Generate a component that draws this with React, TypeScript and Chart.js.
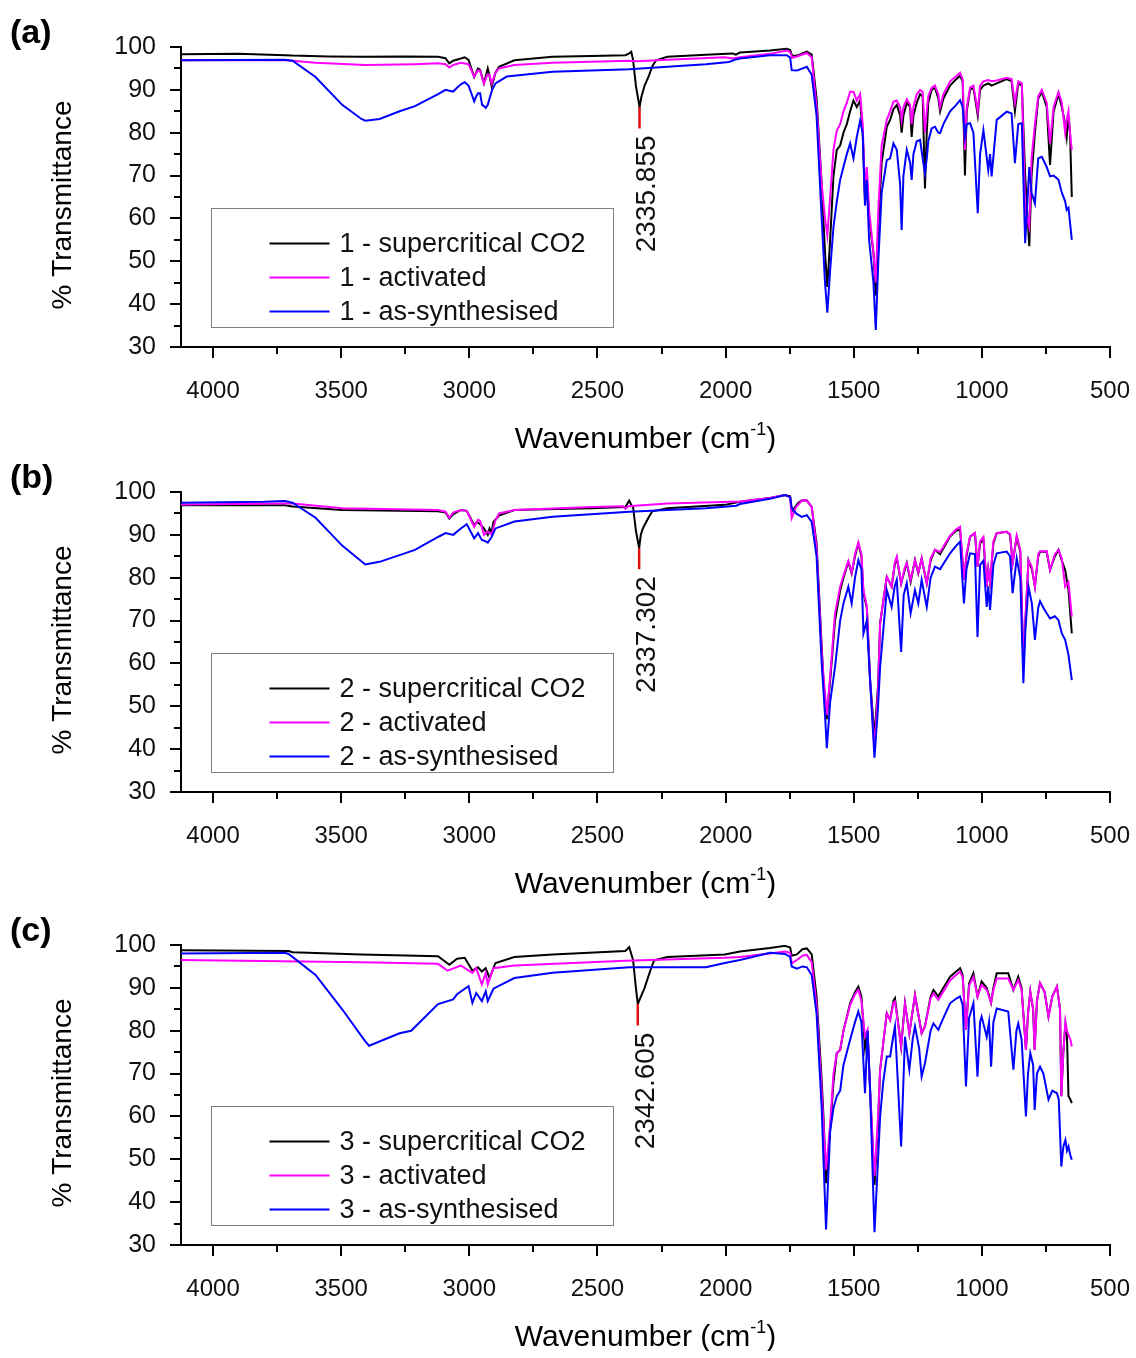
import React, { useEffect, useRef } from "react";
import { Chart, registerables } from "chart.js";

Chart.register(...registerables);

type Pt = [number, number];

const FONT = "'Liberation Sans', Arial, Helvetica, sans-serif";

// Axis ranges and tick positions (wavenumber axis runs high -> low)
const X_RANGE: [number, number] = [500, 4125];
const Y_RANGE: [number, number] = [30, 100];
const X_MAJOR = [4000, 3500, 3000, 2500, 2000, 1500, 1000, 500];
const X_MINOR = [3750, 3250, 2750, 2250, 1750, 1250, 750];
const Y_MAJOR = [30, 40, 50, 60, 70, 80, 90, 100];
const Y_MINOR = [35, 45, 55, 65, 75, 85, 95];

const PANEL_LETTERS = ["(a)", "(b)", "(c)"];
const SAMPLE_NUMBERS = [1, 2, 3];
const SERIES_NAMES = ["supercritical CO2", "activated", "as-synthesised"];
const SERIES_COLORS = ["#000000", "#ff00ff", "#0000ff"];

// CO2 band picked on the supercritical-CO2 spectra
const CO2_PEAK_WN = [2335.855, 2337.302, 2342.605];
const CO2_PEAK_TOP = [86.0, 86.9, 86.2];
const CO2_PEAK_BOTTOM = [81.0, 82.0, 81.2];

// ---------- Sample 1 ----------
const S1_SCCO2: Pt[] = [
  [4125, 98.3], [3900, 98.4], [3720, 98.1], [3690, 98.0], [3550, 97.8], [3421, 97.7], [3250, 97.8], [3122, 97.7],
  [3093, 97.4], [3078, 96.2], [3063, 96.8], [3033, 97.3], [3018, 97.6], [3003, 97.0], [2981, 93.0], [2966, 95.0],
  [2958, 94.7], [2943, 91.5], [2928, 95.0], [2921, 93.2], [2913, 90.8], [2898, 94.0], [2884, 95.4], [2824, 96.9],
  [2675, 97.7], [2525, 97.9], [2391, 98.1], [2376, 98.5], [2368, 98.9], [2361, 97.0], [2350, 91.0], [2335.855, 86.0],
  [2328, 88.5], [2316, 91.0], [2301, 93.0], [2286, 95.5], [2271, 96.9], [2227, 97.7], [2077, 98.2], [1973, 98.5],
  [1960, 98.2], [1944, 98.7], [1827, 99.2], [1761, 99.6], [1748, 99.3], [1740, 97.9], [1722, 98.0], [1683, 98.9],
  [1664, 98.2], [1645, 88], [1625, 68], [1612, 52], [1603, 44], [1592, 55], [1579, 70], [1566, 76], [1553, 77],
  [1540, 80], [1527, 82], [1514, 85], [1501, 87.5], [1488, 86], [1475, 87.5], [1465, 80], [1456, 64], [1449, 70],
  [1440, 60], [1423, 52], [1414, 42], [1404, 58], [1391, 73], [1371, 81.4], [1358, 83], [1345, 85.5], [1332, 86.5],
  [1319, 84], [1313, 80], [1306, 84], [1293, 87], [1280, 86], [1274, 79], [1267, 84], [1254, 87], [1241, 89],
  [1231, 88.5], [1222, 67], [1215, 80], [1209, 87], [1196, 90], [1183, 90.5], [1170, 88], [1163, 85], [1150, 88],
  [1124, 91], [1100, 92.5], [1085, 93.3], [1075, 92], [1066, 70], [1059, 85], [1046, 90], [1033, 90.5], [1016, 84],
  [1007, 90], [994, 91], [975, 91.5], [962, 91], [942, 91.5], [903, 92.5], [884, 92], [871, 85], [858, 91.5],
  [844, 91], [831, 70], [815, 53.5], [806, 70], [793, 80], [780, 88], [766, 89.5], [747, 86], [734, 72.5], [720, 85],
  [701, 89], [688, 86], [675, 82], [669, 79], [662, 84], [656, 80], [649, 65],
];
const S1_ACTIVATED: Pt[] = [
  [4125, 96.9], [3720, 96.9], [3690, 96.8], [3600, 96.3], [3406, 95.8], [3212, 96.0], [3122, 96.2], [3093, 96.0],
  [3078, 95.2], [3063, 95.8], [3033, 96.3], [3003, 96.0], [2981, 93.1], [2966, 94.5], [2958, 94.5], [2943, 91.5],
  [2930, 93.5], [2921, 93.5], [2913, 91.5], [2898, 94.0], [2884, 95.0], [2824, 95.8], [2675, 96.3], [2376, 96.8],
  [2345, 96.7], [2227, 97.0], [2003, 97.6], [1973, 97.3], [1944, 97.6], [1827, 98.4], [1761, 99.2], [1748, 98.8],
  [1740, 97.5], [1722, 97.8], [1683, 98.6], [1664, 97.6], [1645, 86], [1625, 68], [1612, 60], [1603, 56], [1592, 65],
  [1579, 76], [1566, 80.5], [1553, 82], [1540, 85], [1527, 87], [1514, 89.6], [1501, 89.5], [1488, 87.5], [1475, 89],
  [1465, 82], [1456, 66], [1449, 72], [1440, 62], [1423, 52], [1414, 45], [1404, 62], [1391, 77], [1371, 83],
  [1358, 85], [1345, 87.2], [1332, 87.5], [1319, 86], [1313, 83], [1306, 86], [1293, 87.8], [1280, 86.5], [1274, 82],
  [1267, 86], [1254, 89], [1241, 90], [1231, 89.5], [1222, 80], [1215, 85], [1209, 88.5], [1196, 90.5], [1183, 91],
  [1170, 89], [1163, 86], [1150, 89], [1124, 92], [1100, 93.2], [1085, 94], [1075, 92.5], [1066, 76], [1059, 86],
  [1046, 90.5], [1033, 91], [1016, 85], [1007, 91], [994, 92], [975, 92.3], [962, 92], [942, 92.2], [903, 92.8],
  [884, 92.5], [871, 87], [858, 92], [844, 91.5], [831, 62], [815, 58], [806, 74], [793, 82], [780, 88.5], [766, 90],
  [747, 87], [734, 77.5], [720, 86], [701, 89.5], [688, 87], [675, 80], [669, 83], [662, 85], [656, 80], [649, 76],
];
const S1_AS_SYNTH: Pt[] = [
  [4125, 96.9], [3720, 97.0], [3690, 96.8], [3600, 93.0], [3496, 86.5], [3421, 83.2], [3406, 82.8], [3350, 83.2],
  [3272, 85.0], [3212, 86.2], [3122, 89.0], [3093, 90.0], [3078, 89.8], [3063, 89.6], [3048, 90.5], [3033, 91.3],
  [3018, 91.8], [3003, 91.0], [2988, 88.5], [2981, 87.3], [2973, 88.5], [2966, 89.2], [2958, 89.2], [2950, 86.5],
  [2943, 86.2], [2936, 85.8], [2928, 86.5], [2921, 88.0], [2911, 90.0], [2898, 91.5], [2854, 93.1], [2675, 94.2],
  [2376, 94.8], [2077, 96.0], [1987, 96.5], [1960, 97.1], [1944, 97.3], [1827, 98.1], [1761, 98.1], [1748, 97.5],
  [1742, 94.6], [1722, 94.5], [1683, 95.4], [1664, 93.5], [1645, 84], [1625, 60], [1612, 45], [1603, 38], [1592, 48],
  [1579, 58], [1566, 64], [1553, 69], [1540, 72], [1527, 75], [1514, 77.5], [1501, 74], [1488, 79], [1475, 82.8],
  [1465, 80], [1456, 63], [1449, 69], [1440, 55], [1423, 45], [1414, 34], [1404, 50], [1391, 66], [1371, 73.6],
  [1358, 74], [1345, 77.5], [1332, 76], [1319, 68], [1313, 57.3], [1306, 70], [1293, 76], [1280, 73], [1274, 69],
  [1267, 75], [1254, 78], [1241, 78.3], [1231, 74], [1222, 70.5], [1215, 74], [1209, 78], [1196, 81], [1183, 81.4],
  [1170, 80], [1163, 79.9], [1150, 82], [1124, 85], [1100, 86.5], [1085, 87.6], [1075, 86], [1066, 79], [1059, 82],
  [1046, 82.2], [1033, 80], [1016, 61.2], [1007, 75], [994, 80.6], [975, 71.3], [968, 75], [962, 69.8], [942, 83],
  [903, 84.9], [884, 84.5], [871, 72.9], [858, 82], [844, 82.2], [831, 54.2], [815, 72], [806, 66], [793, 63.5],
  [780, 74], [766, 74.4], [747, 72], [734, 69.8], [720, 70], [701, 69], [688, 66], [675, 64], [669, 62], [662, 62.5],
  [649, 55],
];

// ---------- Sample 2 ----------
const S2_SCCO2: Pt[] = [
  [4125, 96.9], [3720, 96.9], [3690, 96.6], [3496, 95.8], [3122, 95.5], [3093, 95.2], [3078, 93.8], [3063, 94.8],
  [3033, 95.8], [3010, 95.6], [2981, 92.3], [2970, 93.0], [2958, 92.5], [2943, 91.5], [2928, 90.0], [2921, 91.5],
  [2913, 90.5], [2906, 93.0], [2884, 94.5], [2824, 95.8], [2525, 96.2], [2391, 96.5], [2376, 98.0], [2368, 97.0],
  [2361, 96.5], [2350, 91.0], [2337.302, 86.9], [2331, 90.0], [2323, 91.5], [2316, 92.3], [2301, 94.0], [2286, 95.5],
  [2227, 96.2], [2003, 97.0], [1944, 97.7], [1827, 98.6], [1768, 99.3], [1748, 99.0], [1742, 95.5], [1716, 97.5],
  [1700, 98.1], [1683, 98.0], [1664, 96.5], [1645, 88], [1625, 64], [1618, 56], [1605, 47], [1592, 56], [1573, 70],
  [1553, 77], [1540, 80], [1521, 83.7], [1508, 81], [1495, 85], [1482, 88], [1470, 85], [1462, 76.4], [1449, 73],
  [1436, 56], [1419, 43], [1405, 55], [1397, 69.4], [1371, 80.2], [1352, 77.9], [1340, 83], [1332, 84.6], [1315, 78.7],
  [1300, 82], [1293, 83.4], [1278, 79], [1261, 84.1], [1248, 81], [1235, 84.5], [1215, 78.7], [1200, 84], [1183, 86.5],
  [1163, 85.5], [1124, 89.6], [1100, 91], [1085, 91.2], [1070, 79.5], [1060, 85], [1046, 89.6], [1027, 90.4],
  [1017, 82.6], [1007, 88], [994, 89], [981, 77.9], [975, 82], [968, 79], [955, 88], [942, 90.4], [903, 90.7],
  [890, 90], [880, 83.4], [864, 89.5], [850, 86], [838, 60], [830, 70], [818, 84.1], [805, 82], [793, 78], [780, 85],
  [773, 86.1], [747, 86], [734, 81.8], [715, 85], [701, 86.5], [688, 84], [675, 81.8], [662, 77.1], [649, 67],
];
const S2_ACTIVATED: Pt[] = [
  [4125, 97.1], [3720, 97.3], [3690, 97.3], [3496, 96.2], [3122, 95.8], [3093, 95.4], [3078, 94.0], [3063, 95.2],
  [3033, 95.8], [3010, 95.6], [2981, 91.9], [2966, 93.5], [2958, 93.3], [2943, 90.0], [2928, 90.8], [2921, 90.5],
  [2913, 90.0], [2898, 93.4], [2884, 95.0], [2824, 95.8], [2525, 96.5], [2400, 96.7], [2391, 96.1], [2380, 96.7],
  [2227, 97.3], [1944, 97.8], [1827, 98.6], [1768, 99.3], [1748, 98.8], [1742, 93.9], [1725, 96.5], [1700, 98.1],
  [1683, 98.0], [1664, 96.5], [1645, 87], [1625, 63], [1618, 57], [1605, 48], [1592, 57], [1573, 71.7], [1553, 77.9],
  [1540, 80.5], [1521, 83.9], [1508, 81.2], [1495, 85.5], [1482, 88.2], [1470, 85.5], [1462, 77], [1449, 73.5],
  [1436, 56], [1419, 40], [1405, 54], [1397, 69.4], [1371, 80.2], [1352, 77.9], [1340, 83.5], [1332, 84.9],
  [1315, 78.7], [1300, 82.5], [1293, 83.4], [1278, 79.5], [1261, 84.1], [1248, 81.2], [1235, 84.5], [1215, 78.7],
  [1200, 84.5], [1183, 86.5], [1163, 86], [1124, 89.8], [1100, 91.3], [1085, 91.9], [1070, 79.5], [1060, 85.5],
  [1046, 89.6], [1027, 90.4], [1017, 82.6], [1007, 88.5], [994, 89.5], [981, 77.9], [975, 82], [968, 79], [955, 88.5],
  [942, 90.4], [903, 90.7], [890, 90.2], [880, 83.4], [864, 89.8], [850, 86.5], [838, 60], [830, 70.5], [818, 84.1],
  [805, 82.5], [793, 77.9], [780, 85.5], [773, 86.1], [747, 86.2], [734, 81.8], [715, 85.5], [701, 86.5], [688, 84.5],
  [675, 77.9], [662, 79], [649, 70.9],
];
const S2_AS_SYNTH: Pt[] = [
  [4125, 97.5], [3800, 97.7], [3720, 97.9], [3690, 97.5], [3600, 94.0], [3496, 87.5], [3406, 83.1], [3350, 83.7],
  [3212, 86.5], [3122, 89.5], [3093, 90.4], [3063, 90.0], [3033, 91.5], [3010, 92.5], [2981, 89.2], [2966, 90.4],
  [2951, 88.8], [2936, 88.5], [2928, 88.2], [2913, 89.5], [2898, 91.5], [2824, 93.1], [2675, 94.2], [2376, 95.4],
  [2077, 96.2], [1958, 96.8], [1944, 97.2], [1827, 98.4], [1768, 99.3], [1748, 98.8], [1742, 96.3], [1725, 95.0],
  [1703, 94.2], [1683, 94.6], [1664, 93], [1645, 85], [1625, 60], [1612, 48], [1605, 40.2], [1592, 51], [1573, 59.2],
  [1553, 70], [1540, 74], [1521, 77.9], [1508, 74], [1495, 80], [1482, 84.1], [1470, 82], [1462, 67], [1449, 70],
  [1436, 56], [1419, 38], [1405, 50], [1397, 59.2], [1371, 77.1], [1352, 73.2], [1340, 78], [1332, 79.5], [1315, 62.7],
  [1305, 76], [1293, 78.7], [1278, 71.7], [1261, 77.1], [1248, 74], [1235, 79.5], [1215, 73.2], [1200, 80],
  [1183, 82.6], [1163, 82], [1124, 85.7], [1100, 87.5], [1085, 88.4], [1070, 74], [1060, 82], [1046, 85.7],
  [1027, 85.5], [1017, 66.2], [1007, 83], [994, 84], [981, 73.2], [975, 78], [968, 72.5], [955, 83], [942, 85.7],
  [903, 86.1], [890, 85], [880, 76.4], [864, 84.5], [850, 80], [838, 55.4], [830, 68], [818, 77.9], [805, 74],
  [793, 65.5], [780, 73], [773, 74.5], [760, 73], [747, 71.7], [734, 70.5], [715, 71], [701, 70.1], [688, 67],
  [675, 65.5], [662, 62], [649, 56.1],
];

// ---------- Sample 3 ----------
const S3_SCCO2: Pt[] = [
  [4125, 98.8], [3705, 98.6], [3690, 98.3], [3421, 97.8], [3122, 97.4], [3078, 95.4], [3048, 96.8], [3018, 97.0],
  [2988, 94.0], [2966, 94.8], [2951, 93.8], [2936, 94.6], [2921, 92.3], [2898, 95.8], [2824, 97.2], [2675, 97.8],
  [2391, 98.6], [2376, 99.5], [2361, 96.5], [2350, 90.0], [2342.605, 86.2], [2334, 87.5], [2316, 90.0], [2294, 94.0],
  [2279, 96.4], [2227, 97.2], [2003, 97.8], [1944, 98.5], [1827, 99.3], [1768, 99.8], [1748, 99.4], [1742, 97.5],
  [1722, 97.8], [1700, 99.0], [1683, 99.2], [1664, 97.8], [1645, 88], [1625, 68.5], [1618, 60], [1608, 44.4],
  [1598, 52], [1592, 57], [1579, 68], [1566, 74.8], [1553, 75.5], [1540, 80], [1514, 86.4], [1495, 89], [1482, 90.3],
  [1470, 88], [1456, 76], [1446, 80], [1436, 66], [1419, 44], [1405, 58], [1397, 70.9], [1371, 84.1], [1358, 82.5],
  [1345, 87], [1339, 87.6], [1315, 76.3], [1300, 86.4], [1283, 79.4], [1261, 88.3], [1235, 79.4], [1222, 81],
  [1200, 88], [1189, 89.5], [1170, 88], [1124, 92.6], [1100, 93.8], [1085, 94.6], [1075, 93], [1062, 80.2],
  [1050, 91], [1033, 93.4], [1017, 88], [1001, 91.5], [981, 90], [964, 86.5], [955, 90], [942, 93.4], [897, 93.4],
  [877, 89.5], [858, 92.6], [845, 90], [828, 75.5], [820, 84], [811, 89.1], [800, 85], [794, 75.5], [785, 87],
  [773, 91.1], [755, 89], [740, 83.3], [725, 88], [707, 90.3], [695, 85], [690, 64.7], [682, 75], [674, 81.5],
  [668, 79], [662, 64.7], [655, 64], [649, 63.1],
];
const S3_ACTIVATED: Pt[] = [
  [4125, 96.5], [3421, 96.0], [3122, 95.6], [3085, 94.0], [3033, 95.2], [2988, 93.5], [2973, 94.6], [2951, 90.8],
  [2936, 93.5], [2928, 90.8], [2906, 94.6], [2824, 95.2], [2391, 96.3], [2003, 97.0], [1944, 97.2], [1827, 98.0],
  [1768, 98.5], [1748, 98.2], [1742, 95.7], [1722, 96.5], [1700, 97.5], [1683, 97.7], [1664, 96], [1645, 86],
  [1625, 66], [1618, 58], [1608, 47.6], [1598, 54], [1592, 58], [1579, 70], [1566, 74.8], [1553, 75.5], [1540, 80],
  [1514, 86], [1495, 88.5], [1482, 89.5], [1470, 87], [1456, 78.6], [1446, 80.2], [1436, 66], [1419, 46], [1405, 60],
  [1397, 70.9], [1371, 84.1], [1358, 82.5], [1345, 86.5], [1339, 86.8], [1315, 76.3], [1300, 86.4], [1283, 79.4],
  [1261, 88.3], [1235, 79.4], [1222, 81], [1200, 87.5], [1189, 88.7], [1170, 87.2], [1124, 91.8], [1100, 93],
  [1085, 93.8], [1075, 92.5], [1062, 80.2], [1050, 90.5], [1033, 92.6], [1017, 88], [1001, 90.7], [981, 89.5],
  [964, 86.5], [955, 89.5], [942, 92.2], [897, 92.2], [877, 89.5], [858, 91.8], [845, 89.5], [828, 75.5], [820, 84],
  [811, 89.1], [800, 85], [794, 75.5], [785, 87], [773, 91.1], [755, 89], [740, 83.3], [725, 88], [707, 90.3],
  [695, 85], [690, 64.7], [682, 75], [674, 82.1], [668, 80], [662, 79], [655, 78], [649, 76.3],
];
const S3_AS_SYNTH: Pt[] = [
  [4125, 98.0], [3720, 98.2], [3705, 97.9], [3600, 93.0], [3496, 85.0], [3406, 77.5], [3391, 76.5], [3272, 79.4],
  [3227, 80.0], [3122, 86.2], [3063, 87.3], [3048, 88.5], [3003, 90.4], [2988, 86.5], [2973, 88.8], [2951, 86.9],
  [2936, 89.2], [2928, 86.9], [2906, 89.8], [2824, 92.3], [2675, 93.5], [2376, 94.8], [2077, 94.8], [2003, 95.8],
  [1944, 96.5], [1827, 98.2], [1768, 97.9], [1748, 97.2], [1742, 95.0], [1722, 94.5], [1700, 95], [1683, 94.8],
  [1664, 93], [1645, 84], [1625, 62], [1618, 49.9], [1608, 33.6], [1598, 48], [1592, 56.5], [1579, 62], [1566, 64.7],
  [1553, 66], [1540, 72], [1514, 77.9], [1495, 82], [1482, 84.5], [1470, 82], [1456, 65.4], [1446, 80], [1436, 66],
  [1419, 33], [1405, 50], [1397, 60], [1385, 68], [1371, 74], [1358, 74], [1345, 79], [1339, 81], [1315, 53],
  [1300, 78.6], [1283, 70.9], [1270, 78], [1261, 81], [1245, 76], [1235, 69.3], [1222, 72.4], [1200, 80],
  [1189, 81.7], [1170, 80.2], [1150, 83], [1124, 86.4], [1100, 87.5], [1085, 88], [1075, 86], [1062, 67], [1050, 83],
  [1033, 86.4], [1017, 69.3], [1007, 82], [1001, 83.3], [981, 78.6], [972, 82], [964, 71.6], [955, 82], [942, 85.2],
  [897, 84.5], [877, 70.9], [865, 80], [858, 81.7], [845, 78], [828, 60], [820, 70], [811, 74.8], [800, 72],
  [794, 61.5], [785, 70], [773, 71.6], [760, 70], [740, 63.9], [725, 66], [707, 65.4], [700, 64], [690, 48.3],
  [682, 53], [674, 54.5], [668, 52], [662, 53], [655, 51], [649, 49.9],
];

const PANEL_SERIES: Pt[][][] = [
  [S1_SCCO2, S1_ACTIVATED, S1_AS_SYNTH],
  [S2_SCCO2, S2_ACTIVATED, S2_AS_SYNTH],
  [S3_SCCO2, S3_ACTIVATED, S3_AS_SYNTH],
];

// Layout of each panel canvas
const CANVAS_W = 1136;
const CANVAS_H = 453;
const PANEL_TOPS = [0, 445, 898];
const PLOT_LEFT = 181;
const PLOT_TOP = 47;
const PLOT_BOTTOM = 347;
const PLOT_RIGHT = 1110;

function toXY(pts: Pt[]) {
  return pts.map(([x, y]) => ({ x, y }));
}

function makeDecor(idx: number) {
  return {
    id: "panelDecor",
    afterDraw(chart: any) {
      const { ctx, chartArea: a, scales } = chart;
      const xs = scales.x;
      const ys = scales.y;
      ctx.save();

      // tick marks (outward), major and minor
      ctx.strokeStyle = "#000";
      ctx.lineWidth = 2;
      ctx.beginPath();
      X_MAJOR.forEach((v) => {
        const p = Math.round(xs.getPixelForValue(v));
        ctx.moveTo(p, a.bottom);
        ctx.lineTo(p, a.bottom + 11);
      });
      X_MINOR.forEach((v) => {
        const p = Math.round(xs.getPixelForValue(v));
        ctx.moveTo(p, a.bottom);
        ctx.lineTo(p, a.bottom + 7);
      });
      Y_MAJOR.forEach((v) => {
        const p = Math.round(ys.getPixelForValue(v));
        ctx.moveTo(a.left, p);
        ctx.lineTo(a.left - 11, p);
      });
      Y_MINOR.forEach((v) => {
        const p = Math.round(ys.getPixelForValue(v));
        ctx.moveTo(a.left, p);
        ctx.lineTo(a.left - 7, p);
      });
      ctx.stroke();

      ctx.fillStyle = "#000";

      // panel letter
      ctx.font = `bold 34px ${FONT}`;
      ctx.textAlign = "left";
      ctx.textBaseline = "middle";
      ctx.fillText(PANEL_LETTERS[idx], 10, 34);

      // y title
      ctx.save();
      ctx.translate(63, 205);
      ctx.rotate(-Math.PI / 2);
      ctx.font = `28px ${FONT}`;
      ctx.textAlign = "center";
      ctx.textBaseline = "middle";
      ctx.fillText("% Transmittance", 0, 0);
      ctx.restore();

      // x title with superscript
      const main = "Wavenumber (cm";
      const sup = "-1";
      const close = ")";
      ctx.font = `30px ${FONT}`;
      const wMain = ctx.measureText(main).width;
      const wClose = ctx.measureText(close).width;
      ctx.font = `18px ${FONT}`;
      const wSup = ctx.measureText(sup).width;
      const total = wMain + wSup + wClose;
      const cx = (a.left + a.right) / 2;
      let tx = cx - total / 2;
      const ty = 440;
      ctx.textAlign = "left";
      ctx.textBaseline = "middle";
      ctx.font = `30px ${FONT}`;
      ctx.fillText(main, tx, ty);
      tx += wMain;
      ctx.font = `18px ${FONT}`;
      ctx.fillText(sup, tx, ty - 10);
      tx += wSup;
      ctx.font = `30px ${FONT}`;
      ctx.fillText(close, tx, ty);

      // legend box
      const bx = a.left + 30.5;
      const by = a.top + 161.5;
      ctx.strokeStyle = "#808080";
      ctx.lineWidth = 1;
      ctx.strokeRect(bx, by, 402, 119);
      const rows = [35, 69, 103];
      ctx.font = `27px ${FONT}`;
      ctx.textBaseline = "middle";
      ctx.textAlign = "left";
      chart.data.datasets.forEach((ds: any) => {
        if (!ds.inLegend) return;
        const ry = by + rows[ds.legendRow];
        ctx.strokeStyle = ds.borderColor;
        ctx.lineWidth = 2;
        ctx.beginPath();
        ctx.moveTo(bx + 58, ry);
        ctx.lineTo(bx + 118, ry);
        ctx.stroke();
        ctx.fillStyle = "#111";
        ctx.fillText(ds.label, bx + 128, ry + 1);
      });

      // CO2 peak label
      const px = xs.getPixelForValue(CO2_PEAK_WN[idx]);
      const py = ys.getPixelForValue(CO2_PEAK_BOTTOM[idx]);
      ctx.save();
      ctx.translate(px + 8, py + 7);
      ctx.rotate(-Math.PI / 2);
      ctx.font = `28px ${FONT}`;
      ctx.fillStyle = "#111";
      ctx.textAlign = "right";
      ctx.textBaseline = "middle";
      ctx.fillText(CO2_PEAK_WN[idx].toFixed(3), 0, 0);
      ctx.restore();

      ctx.restore();
    },
  };
}

function SpectrumPanel({ idx }: { idx: number }) {
  const ref = useRef<HTMLCanvasElement | null>(null);

  useEffect(() => {
    if (!ref.current) return;
    const series = PANEL_SERIES[idx];
    const n = SAMPLE_NUMBERS[idx];
    const drawOrder = [2, 1, 0];
    const datasets: any[] = series.map((pts, i) => ({
      label: `${n} - ${SERIES_NAMES[i]}`,
      data: toXY(pts),
      borderColor: SERIES_COLORS[i],
      backgroundColor: SERIES_COLORS[i],
      borderWidth: 2,
      pointRadius: 0,
      tension: 0,
      fill: false,
      order: drawOrder[i],
      inLegend: true,
      legendRow: i,
    }));
    datasets.push({
      label: "CO2 peak",
      data: [
        { x: CO2_PEAK_WN[idx], y: CO2_PEAK_TOP[idx] },
        { x: CO2_PEAK_WN[idx], y: CO2_PEAK_BOTTOM[idx] },
      ],
      borderColor: "#e01010",
      borderWidth: 2.5,
      pointRadius: 0,
      fill: false,
      order: -1,
      inLegend: false,
    });

    const chart = new Chart(ref.current, {
      type: "line",
      data: { datasets },
      options: {
        animation: false,
        responsive: false,
        maintainAspectRatio: false,
        devicePixelRatio: 1,
        layout: {
          padding: { left: 0, top: PLOT_TOP, right: CANVAS_W - PLOT_RIGHT, bottom: 0 },
        },
        plugins: {
          legend: { display: false },
          tooltip: { enabled: false },
          title: { display: false },
        },
        scales: {
          x: {
            type: "linear",
            reverse: true,
            min: X_RANGE[0],
            max: X_RANGE[1],
            afterBuildTicks: (s: any) => {
              s.ticks = X_MAJOR.map((v) => ({ value: v }));
            },
            afterFit: (s: any) => {
              s.height = CANVAS_H - PLOT_BOTTOM;
              s.paddingLeft = 0;
              s.paddingRight = 0;
            },
            grid: { display: false, drawTicks: false },
            border: { display: true, color: "#000", width: 2 },
            ticks: {
              autoSkip: false,
              maxRotation: 0,
              padding: 30,
              color: "#111",
              font: { family: FONT, size: 24 },
              callback: (v: any) => String(v),
            },
          },
          y: {
            type: "linear",
            min: Y_RANGE[0],
            max: Y_RANGE[1],
            afterBuildTicks: (s: any) => {
              s.ticks = Y_MAJOR.map((v) => ({ value: v }));
            },
            afterFit: (s: any) => {
              s.width = PLOT_LEFT;
              s.paddingTop = 0;
              s.paddingBottom = 0;
            },
            grid: { display: false, drawTicks: false },
            border: { display: true, color: "#000", width: 2 },
            ticks: {
              padding: 25,
              color: "#111",
              font: { family: FONT, size: 25 },
              callback: (v: any) => String(v),
            },
          },
        },
      } as any,
      plugins: [makeDecor(idx)],
    });
    return () => chart.destroy();
  }, [idx]);

  return (
    <canvas
      ref={ref}
      width={CANVAS_W}
      height={CANVAS_H}
      style={{
        position: "absolute",
        left: 0,
        top: PANEL_TOPS[idx],
        width: CANVAS_W,
        height: CANVAS_H,
      }}
    />
  );
}

export default function App() {
  return (
    <div
      style={{
        position: "absolute",
        left: 0,
        top: 0,
        width: CANVAS_W,
        height: 1358,
        background: "#ffffff",
        overflow: "hidden",
      }}
    >
      {[0, 1, 2].map((i) => (
        <SpectrumPanel key={i} idx={i} />
      ))}
    </div>
  );
}
